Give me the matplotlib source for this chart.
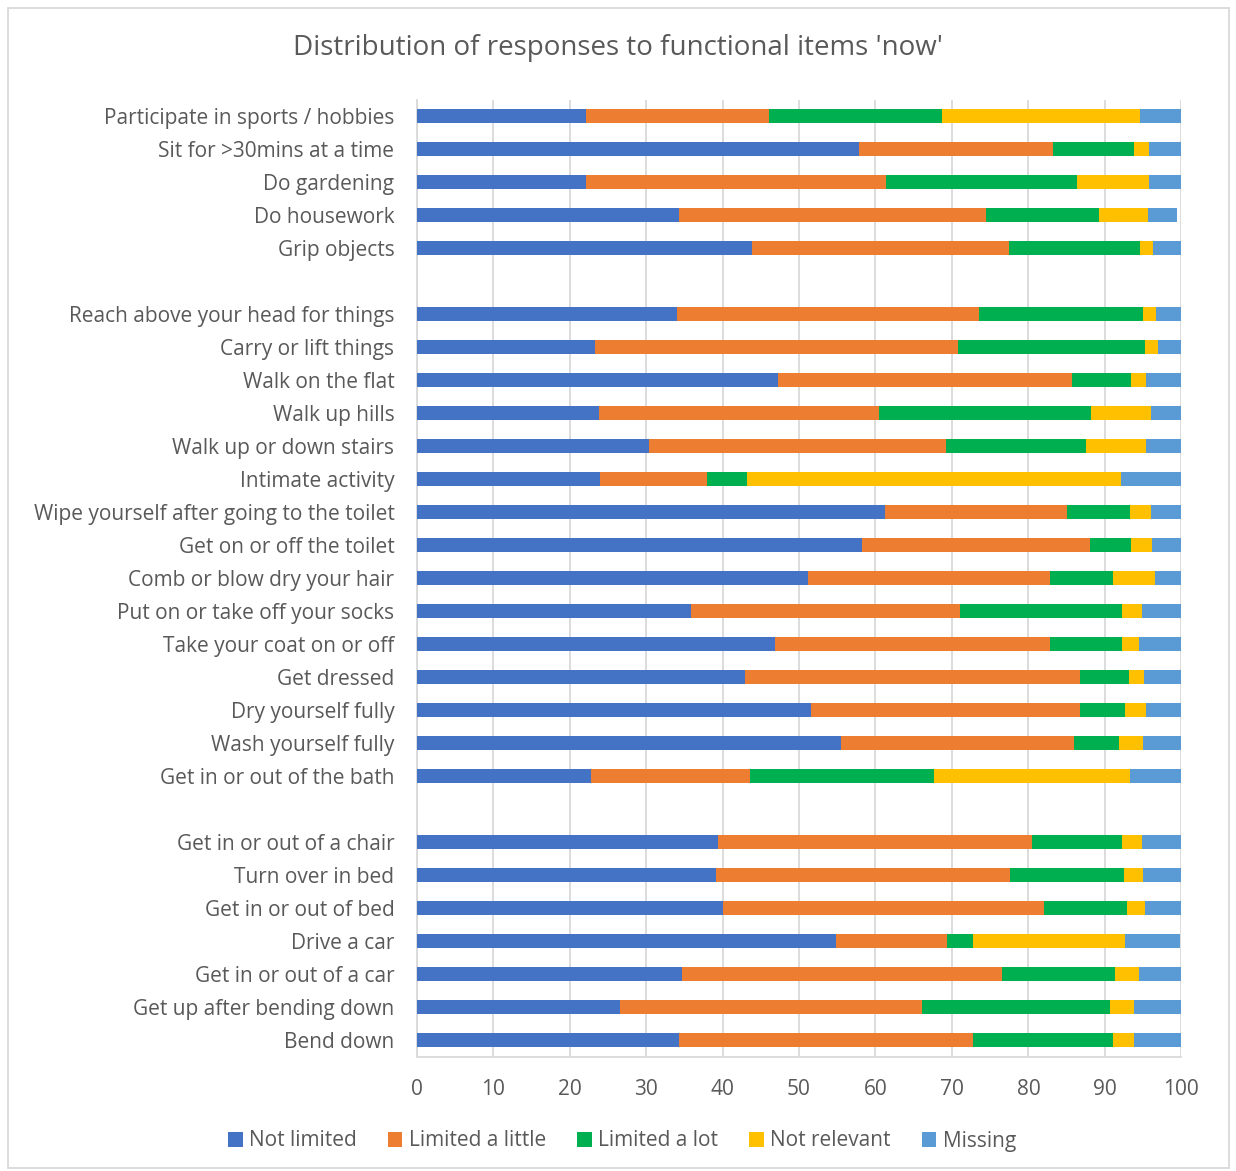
import matplotlib
matplotlib.use("Agg")
import matplotlib.pyplot as plt
import numpy as np
from matplotlib.patches import Rectangle

categories = [
    "Participate in sports / hobbies", "Sit for >30mins at a time", "Do gardening",
    "Do housework", "Grip objects", "",
    "Reach above your head for things", "Carry or lift things", "Walk on the flat",
    "Walk up hills", "Walk up or down stairs", "Intimate activity",
    "Wipe yourself after going to the toilet", "Get on or off the toilet",
    "Comb or blow dry your hair", "Put on or take off your socks",
    "Take your coat on or off", "Get dressed", "Dry yourself fully",
    "Wash yourself fully", "Get in or out of the bath", "",
    "Get in or out of a chair", "Turn over in bed", "Get in or out of bed",
    "Drive a car", "Get in or out of a car", "Get up after bending down", "Bend down",
]

not_limited = [22.2, 57.8, 22.2, 34.3, 43.8, 0,
               34.0, 23.3, 47.3, 23.8, 30.4, 24.0, 61.3, 58.2, 51.2, 35.9, 46.9, 42.9, 51.6, 55.5, 22.8, 0,
               39.4, 39.1, 40.1, 54.9, 34.7, 26.6, 34.3]
limited_little = [23.9, 25.4, 39.2, 40.2, 33.6, 0,
                  39.5, 47.5, 38.4, 36.7, 38.8, 14.0, 23.8, 29.8, 31.6, 35.2, 35.9, 43.9, 35.2, 30.5, 20.8, 0,
                  41.1, 38.5, 41.9, 14.4, 41.9, 39.5, 38.4]
limited_lot = [22.6, 10.6, 25.0, 14.7, 17.2, 0,
               21.5, 24.5, 7.7, 27.7, 18.4, 5.2, 8.2, 5.4, 8.3, 21.1, 9.4, 6.4, 5.9, 5.9, 24.0, 0,
               11.7, 14.9, 10.9, 3.4, 14.7, 24.6, 18.4]
not_relevant = [25.9, 2.0, 9.4, 6.4, 1.7, 0,
                1.7, 1.6, 2.0, 7.8, 7.8, 48.9, 2.7, 2.8, 5.4, 2.7, 2.3, 1.9, 2.7, 3.1, 25.7, 0,
                2.7, 2.5, 2.4, 19.9, 3.2, 3.1, 2.7]
missing = [5.4, 4.2, 4.2, 3.9, 3.7, 0,
           3.3, 3.1, 4.6, 4.0, 4.6, 7.8, 4.0, 3.8, 3.5, 5.1, 5.5, 4.9, 4.6, 5.0, 6.7, 0,
           5.1, 5.0, 4.6, 7.2, 5.5, 6.2, 6.2]

series_names = ["Not limited", "Limited a little", "Limited a lot", "Not relevant", "Missing"]
colors = ["#4472C4", "#ED7D31", "#00B050", "#FFC000", "#5B9BD5"]
series = [not_limited, limited_little, limited_lot, not_relevant, missing]

plt.rcParams['font.family'] = ['Open Sans', 'DejaVu Sans']
text_color = "#595959"

fig = plt.figure(figsize=(12.36, 11.71), dpi=100)
ax = fig.add_axes([416.7 / 1236, 1 - 1056.5 / 1171, (1181.3 - 416.7) / 1236, (1056.5 - 99.5) / 1171])

y = np.arange(len(categories))
left = np.zeros(len(categories))
for name, vals, c in zip(series_names, series, colors):
    vals = np.array(vals, dtype=float)
    ax.barh(y, vals, left=left, height=0.4, color=c, label=name, zorder=3)
    left += vals

ax.set_ylim(len(categories) - 0.5, -0.5)
ax.set_xlim(0, 100)
ax.set_xticks(np.arange(0, 101, 10))
ax.set_yticks(y)
ax.set_yticklabels(categories)
ax.tick_params(axis='y', length=0, labelsize=15, colors=text_color, pad=16)
ax.tick_params(axis='x', length=0, labelsize=15, colors=text_color, pad=16)
ax.grid(axis='x', color="#D9D9D9", linewidth=1.3, zorder=0)
for s in ['top', 'right']:
    ax.spines[s].set_visible(False)
for s in ['left', 'bottom']:
    ax.spines[s].set_color("#D9D9D9")
    ax.spines[s].set_linewidth(1.3)

fig.text(618 / 1236, 1 - 48 / 1171, "Distribution of responses to functional items 'now'",
         ha='center', va='center', fontsize=20, color=text_color)

handles, labels = ax.get_legend_handles_labels()
fig.legend(handles, labels, loc='center', bbox_to_anchor=(622 / 1236, 1 - 1141 / 1171),
           ncol=5, frameon=False, fontsize=15, labelcolor=text_color,
           handlelength=0.7, handleheight=0.7, handletextpad=0.3, columnspacing=1.5)

fig.add_artist(Rectangle((8 / 1236, 3 / 1171), 1221 / 1236, 1160 / 1171, transform=fig.transFigure,
                         fill=False, edgecolor="#D9D9D9", linewidth=1.3))

fig.savefig("out.png", dpi=100, facecolor='white')
